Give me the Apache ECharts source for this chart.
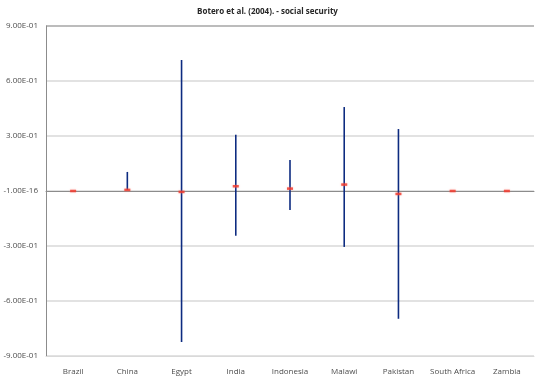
<!DOCTYPE html>
<html>
<head>
<meta charset="utf-8">
<script src="https://cdn.jsdelivr.net/npm/echarts@6/dist/echarts.min.js"></script>
<style>
  html, body { margin: 0; padding: 0; background: #ffffff; }
  #chart { width: 535px; height: 377px; }
</style>
</head>
<body>
<div id="chart"></div>
<script>
// Countries on the category axis
const categories = ['Brazil', 'China', 'Egypt', 'India', 'Indonesia', 'Malawi', 'Pakistan', 'South Africa', 'Zambia'];
// Point estimates (red markers)
const means = [0, 0.006, -0.005, 0.026, 0.013, 0.035, -0.016, 0, 0];
// Interval bounds (blue bars)
const upper = [0, 0.104, 0.715, 0.307, 0.169, 0.458, 0.338, 0, 0];
const lower = [0, 0.006, -0.824, -0.244, -0.104, -0.305, -0.697, 0, 0];
// Value-axis tick labels, bottom to top
const yTickLabels = ['-9.00E-01', '-6.00E-01', '-3.00E-01', '-1.00E-16', '3.00E-01', '6.00E-01', '9.00E-01'];

const yMin = -0.9, yMax = 0.9, yStep = 0.3;

const chart = echarts.init(document.getElementById('chart'), null, { renderer: 'canvas' });

const labelFont = { fontFamily: 'Open Sans, Liberation Sans, sans-serif', fontSize: 8, color: '#4d4d4d' };

chart.setOption({
  animation: false,
  title: {
    text: 'Botero et al. (2004). - social security',
    left: 'center',
    top: 3,
    textStyle: { fontFamily: 'Open Sans, Liberation Sans, sans-serif', fontSize: 8, fontWeight: 'bold', color: '#262626' }
  },
  grid: { left: 46, right: 1, top: 26, bottom: 21, containLabel: false },
  xAxis: [
    {
      type: 'category',
      data: categories,
      position: 'bottom',
      axisLine: { onZero: false, lineStyle: { color: '#d9d9d9', width: 1 } },
      axisTick: { show: false },
      axisLabel: Object.assign({ margin: 12, interval: 0 }, labelFont),
      splitLine: { show: false }
    },
    {
      type: 'category',
      data: categories,
      position: 'bottom',
      axisLine: { onZero: true, lineStyle: { color: '#8c8c8c', width: 1 } },
      axisTick: { show: false },
      axisLabel: { show: false },
      splitLine: { show: false }
    }
  ],
  yAxis: {
    type: 'value',
    min: yMin,
    max: yMax,
    interval: yStep,
    axisLine: { show: true, lineStyle: { color: '#8c8c8c', width: 1 } },
    axisTick: { show: false },
    axisLabel: Object.assign({
      margin: 8,
      formatter: function (v) {
        const i = Math.round((v - yMin) / yStep);
        return yTickLabels[i];
      }
    }, labelFont),
    splitLine: {
      show: true,
      lineStyle: {
        color: ['#d9d9d9', '#d9d9d9', '#d9d9d9', '#d9d9d9', '#d9d9d9', '#d9d9d9', '#a6a6a6'],
        width: 1.5
      }
    }
  },
  series: [
    {
      name: 'interval',
      type: 'custom',
      xAxisIndex: 0,
      z: 3,
      data: categories.map((c, i) => [i, lower[i], upper[i]]),
      renderItem: function (params, api) {
        const lo = api.coord([api.value(0), api.value(1)]);
        const hi = api.coord([api.value(0), api.value(2)]);
        if (Math.abs(hi[1] - lo[1]) < 0.5) return null;
        return {
          type: 'line',
          shape: { x1: lo[0], y1: lo[1], x2: hi[0], y2: hi[1] },
          style: { stroke: '#0d2b80', lineWidth: 1.6 }
        };
      }
    },
    {
      name: 'estimate',
      type: 'scatter',
      xAxisIndex: 0,
      z: 4,
      symbol: 'rect',
      symbolSize: [6, 2.5],
      itemStyle: { color: '#f0372b', shadowColor: 'rgba(255,120,110,0.6)', shadowBlur: 2 },
      data: categories.map((c, i) => [i, means[i]])
    }
  ]
});
</script>
</body>
</html>
